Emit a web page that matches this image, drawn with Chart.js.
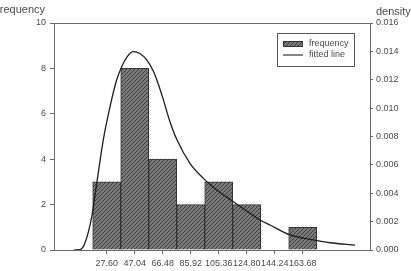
<!DOCTYPE html>
<html>
<head>
<meta charset="utf-8">
<script src="https://cdn.jsdelivr.net/npm/chart.js@4.4.0/dist/chart.umd.min.js"></script>
<style>
  html, body { margin: 0; padding: 0; background: #fff; }
  #wrap { width: 411px; height: 271px; }
</style>
</head>
<body>
<div id="wrap"><canvas id="chart" width="411" height="271"></canvas></div>
<script>
// bin centres and counts
const binCenters = [27.60, 47.04, 66.48, 85.92, 105.36, 124.80, 144.24, 163.68];
const counts = [3, 8, 4, 2, 3, 2, 0, 1];

// fitted density curve
const curveX = [5, 9, 12.5, 17.2, 20.7, 25.2, 29.9, 34.5, 38.0, 42.0, 46.1, 50.5, 55.4, 60.0, 63.4,
  66.9, 71.0, 76.2, 85.4, 94.7, 104.0, 115.5, 127.1, 134.0, 141.0, 154.9, 168.8, 182.7, 200.0];
const curveY = [0, 0.00002, 0.00049, 0.00235, 0.00472, 0.00775, 0.0101, 0.01198, 0.01292, 0.01365, 0.01398, 0.01385, 0.0134, 0.0126, 0.0117,
  0.0106, 0.0092, 0.0078, 0.00611, 0.00505, 0.00423, 0.0034, 0.00259, 0.00211, 0.00176, 0.00106, 0.00075, 0.00051, 0.00035];

const freqTicks = [0, 2, 4, 6, 8, 10];
const densTicks = [0, 0.002, 0.004, 0.006, 0.008, 0.010, 0.012, 0.014, 0.016];

const FONT = "'Liberation Sans', Arial, sans-serif";
const AXIS = "#6a6a6a";
const TEXT = "#4a4a4a";

function hatch() {
  const c = document.createElement("canvas");
  c.width = 4; c.height = 4;
  const g = c.getContext("2d");
  g.fillStyle = "#7a7a7a";
  g.fillRect(0, 0, 4, 4);
  g.strokeStyle = "#3e3e3e";
  g.lineWidth = 1;
  g.beginPath();
  g.moveTo(-1, 5); g.lineTo(5, -1);
  g.moveTo(-1, 1); g.lineTo(1, -1);
  g.moveTo(3, 5); g.lineTo(5, 3);
  g.stroke();
  return g.createPattern(c, "repeat");
}
const pat = hatch();

const extras = {
  id: "extras",
  beforeDatasetsDraw(chart) {
    const { ctx, chartArea: a } = chart;
    ctx.save();
    ctx.strokeStyle = AXIS;
    ctx.lineWidth = 1;
    ctx.beginPath();
    ctx.moveTo(a.left, a.top + 0.5);
    ctx.lineTo(a.right, a.top + 0.5);
    ctx.stroke();
    ctx.restore();
  },
  afterDraw(chart) {
    const { ctx, chartArea: a } = chart;
    ctx.save();
    ctx.fillStyle = TEXT;
    ctx.font = "11px " + FONT;
    ctx.textBaseline = "middle";
    ctx.textAlign = "right";
    ctx.fillText("frequency", a.left - 9, a.top - 13);
    ctx.textAlign = "left";
    ctx.fillText("density", a.right + 6, a.top - 11);

    // legend box
    const lx = a.right - 93, ly = a.top + 10;
    ctx.strokeStyle = "#555";
    ctx.lineWidth = 1;
    ctx.strokeRect(lx + 0.5, ly + 0.5, 77, 33);
    ctx.fillStyle = pat;
    ctx.fillRect(lx + 6, ly + 8, 20, 6);
    ctx.strokeStyle = "#333";
    ctx.strokeRect(lx + 6.5, ly + 8.5, 19, 5);
    ctx.lineWidth = 1.2;
    ctx.beginPath();
    ctx.moveTo(lx + 6, ly + 22);
    ctx.lineTo(lx + 26, ly + 22);
    ctx.stroke();
    ctx.fillStyle = TEXT;
    ctx.font = "9px " + FONT;
    ctx.textAlign = "left";
    ctx.fillText("frequency", lx + 32, ly + 11);
    ctx.fillText("fitted line", lx + 32, ly + 22);
    ctx.restore();
  }
};

new Chart(document.getElementById("chart"), {
  type: "bar",
  data: {
    datasets: [
      {
        type: "line",
        label: "fitted line",
        data: curveX.map((x, i) => ({ x: x, y: curveY[i] })),
        yAxisID: "y2",
        borderColor: "#1e1e1e",
        borderWidth: 1.3,
        pointRadius: 0,
        tension: 0.4,
        cubicInterpolationMode: "monotone",
        fill: false,
        order: 1
      },
      {
        label: "frequency",
        data: binCenters.map((x, i) => ({ x: x, y: counts[i] })),
        yAxisID: "y",
        backgroundColor: pat,
        borderColor: "#333",
        borderWidth: 1,
        borderSkipped: "bottom",
        barPercentage: 1,
        categoryPercentage: 1,
        order: 2
      }
    ]
  },
  options: {
    responsive: false,
    animation: false,
    layout: { padding: { top: 23, left: 0, right: 0, bottom: 0 } },
    plugins: { legend: { display: false }, tooltip: { enabled: false } },
    scales: {
      x: {
        type: "linear",
        offset: false,
        min: -9,
        max: 210.4,
        afterBuildTicks(s) { s.ticks = binCenters.map(v => ({ value: v })); },
        afterFit(s) { s.height = 21; },
        grid: { drawOnChartArea: false, drawTicks: true, tickLength: 4, color: AXIS, offset: false },
        border: { display: true, color: AXIS, width: 1 },
        ticks: {
          autoSkip: false, maxRotation: 0, padding: 4,
          color: TEXT, font: { family: FONT, size: 9 },
          callback: v => Number(v).toFixed(2)
        }
      },
      y: {
        position: "left",
        min: 0, max: 10,
        afterBuildTicks(s) { s.ticks = freqTicks.map(v => ({ value: v })); },
        afterFit(s) { s.width = 54; },
        grid: { drawOnChartArea: false, drawTicks: true, tickLength: 4, color: AXIS },
        border: { display: true, color: AXIS, width: 1 },
        ticks: { padding: 4, color: TEXT, font: { family: FONT, size: 9 } }
      },
      y2: {
        position: "right",
        min: 0, max: 0.016,
        afterBuildTicks(s) { s.ticks = densTicks.map(v => ({ value: v })); },
        afterFit(s) { s.width = 41; },
        grid: { drawOnChartArea: false, drawTicks: true, tickLength: 3, color: AXIS },
        border: { display: true, color: AXIS, width: 1 },
        ticks: {
          padding: 3, color: TEXT, font: { family: FONT, size: 9 },
          callback: v => Number(v).toFixed(3)
        }
      }
    }
  },
  plugins: [extras]
});
</script>
</body>
</html>
